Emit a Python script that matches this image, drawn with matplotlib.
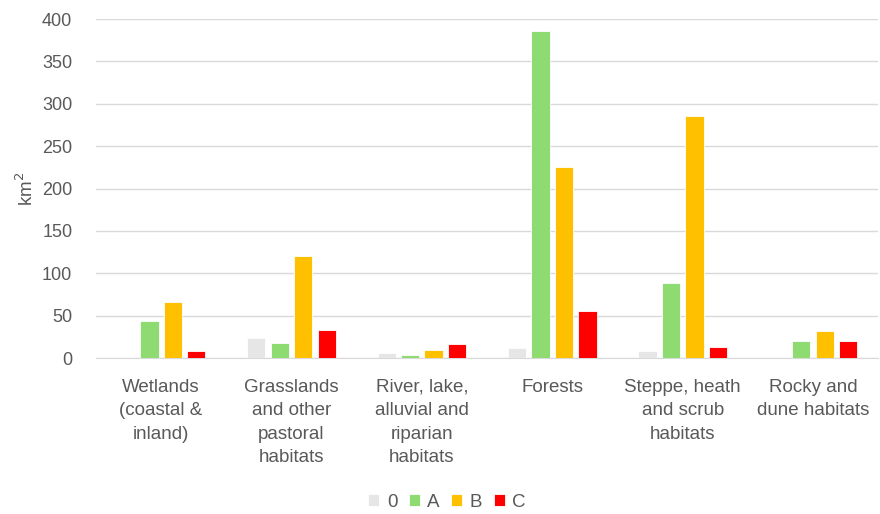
import numpy as np
import matplotlib
matplotlib.use("Agg")
import matplotlib.pyplot as plt

plt.rcParams['font.family'] = ['Liberation Sans', 'DejaVu Sans']

categories = ["Wetlands\n(coastal &\ninland)",
              "Grasslands\nand other\npastoral\nhabitats",
              "River, lake,\nalluvial and\nriparian\nhabitats",
              "Forests",
              "Steppe, heath\nand scrub\nhabitats",
              "Rocky and\ndune habitats"]
series_names = ["0", "A", "B", "C"]
vals_0 = [0, 24, 6, 12, 8, 0]
vals_A = [44, 18, 4, 386, 89, 20]
vals_B = [66, 120, 10, 225, 286, 32]
vals_C = [8, 33, 16, 56, 13, 20]
colors = ["#E7E6E6", "#8EDB72", "#FFC000", "#FF0000"]

text_col = "#595959"
fig = plt.figure(figsize=(8.8, 5.14), dpi=100)
ax = fig.add_axes([0.109, 0.3035, 0.889, 0.6595])

x = np.arange(len(categories))
width = 0.14
step = 0.18
for i, (name, vals) in enumerate(zip(series_names, [vals_0, vals_A, vals_B, vals_C])):
    ax.bar(x + (i - 1.5) * step, vals, width, color=colors[i], label=name,
           edgecolor="white", linewidth=0.6, zorder=3)

ax.set_xlim(-0.5, len(categories) - 0.5)
ax.set_ylim(0, 400)
ax.set_yticks(range(0, 401, 50))
ax.yaxis.grid(True, color="#D9D9D9", linewidth=1.0, zorder=0)
for s in ["top", "right", "left"]:
    ax.spines[s].set_visible(False)
ax.spines["bottom"].set_color("#D9D9D9")
ax.tick_params(axis="both", length=0, colors=text_col)
ax.tick_params(axis="y", pad=17, labelsize=13)
ax.tick_params(axis="x", pad=15, labelsize=13.5)
ax.set_xticks(x)
ax.set_xticklabels(categories, linespacing=1.5)
ax.set_ylabel("km$^2$", color=text_col, fontsize=13.5, labelpad=4)

fig.legend(loc="lower center", bbox_to_anchor=(0.508, -0.027), ncol=4, frameon=False,
           fontsize=13.5, handlelength=0.6, handleheight=0.6, handletextpad=0.4,
           columnspacing=0.6, labelcolor=text_col)

fig.savefig("out.png", dpi=100)
